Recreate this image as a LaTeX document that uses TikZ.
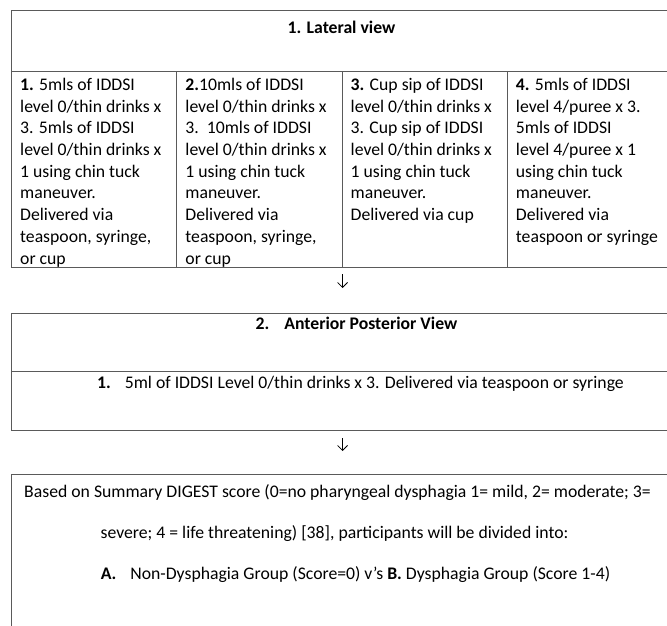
\documentclass[tikz,border=0pt]{standalone}
\usepackage{fontspec}
\setmainfont{Carlito}
\usetikzlibrary{positioning,arrows.meta}
\definecolor{rulegray}{HTML}{5A5A5A}
\tikzset{
    x=1pt, y=-1pt, % one unit per pixel, y runs down the page
    frame/.style={draw=rulegray, line width=1.1pt, inner sep=0pt, anchor=north west}, % box outlines
    plain/.style={inner sep=0pt, anchor=base, font=\fontsize{17.7pt}{21.7pt}\selectfont},
    title/.style={plain, font=\fontsize{17.7pt}{21.7pt}\selectfont\bfseries},
    steptext/.style={inner sep=0pt, align=left, font=\fontsize{17.7pt}{21.7pt}\selectfont}, % text of the four cells
    flow/.style={-{Straight Barb[length=5pt,width=10pt]}, line width=0.8pt},
}
\begin{document}
\begin{tikzpicture}
  \useasboundingbox (0,0) rectangle (667,626);

  % 1. Lateral view
  \node[frame, minimum width=661pt, minimum height=61pt] (lathead) at (11,10) {};
  \foreach \i/\n in {0/cellone,1/celltwo,2/cellthree,3/cellfour}
    \node[frame, minimum width=165.25pt, minimum height=196pt] (\n) at (11+165.25*\i,71) {};
  \node[title] (lattitle) at (341.5,34) {1. Lateral view};

  \node[steptext, below right=7pt and 9pt of cellone.north west] (stepone)
    {\textbf{1.} 5mls of IDDSI\\level 0/thin drinks x\\3. 5mls of IDDSI\\level 0/thin drinks x\\1 using chin tuck\\maneuver.\\Delivered via\\teaspoon, syringe,\\or cup};
  \node[steptext, below right=7pt and 9pt of celltwo.north west] (steptwo)
    {\textbf{2.}10mls of IDDSI\\level 0/thin drinks x\\3.\ \ 10mls of IDDSI\\level 0/thin drinks x\\1 using chin tuck\\maneuver.\\Delivered via\\teaspoon, syringe,\\or cup};
  \node[steptext, below right=7pt and 9pt of cellthree.north west] (stepthree)
    {\textbf{3.} Cup sip of IDDSI\\level 0/thin drinks x\\3. Cup sip of IDDSI\\level 0/thin drinks x\\1 using chin tuck\\maneuver.\\Delivered via cup};
  \node[steptext, below right=7pt and 9pt of cellfour.north west] (stepfour)
    {\textbf{4.} 5mls of IDDSI\\level 4/puree x 3.\\5mls of IDDSI\\level 4/puree x 1\\using chin tuck\\maneuver.\\Delivered via\\teaspoon or syringe};

  % 2. Anterior posterior view
  \node[frame, minimum width=694pt, minimum height=58pt] (aphead) at (11,313) {};
  \node[frame, minimum width=694pt, minimum height=59pt] (apbody) at (11,371) {};
  \node[title] (aptitle) at (356.5,329.5) {2.\hspace{15pt}Anterior Posterior View};
  \node[plain] (apstep) at (360.5,388.5)
    {\textbf{1.}\hspace{14pt}5ml of IDDSI Level 0/thin drinks x 3. Delivered via teaspoon or syringe};

  % DIGEST grouping
  \node[frame, minimum width=694pt, minimum height=200pt] (digest) at (11,474) {};
  \node[plain] (scoreone) at (337.5,497.5)
    {Based on Summary DIGEST score (0=no pharyngeal dysphagia 1= mild, 2= moderate; 3=};
  \node[plain] (scoretwo) at (334.5,538.5)
    {severe; 4 = life threatening) [38], participants will be divided into:};
  \node[plain] (groups) at (355.5,579.5)
    {\textbf{A.}\hspace{14pt}Non-Dysphagia Group (Score=0) v’s \textbf{B.} Dysphagia Group (Score 1-4)};

  \draw[flow, shorten <=6pt, shorten >=25pt] (celltwo.south east) -- (celltwo.south east |- aphead.north);
  \draw[flow, shorten <=7pt, shorten >=23pt] (celltwo.south east |- apbody.south) -- (celltwo.south east |- digest.north);
\end{tikzpicture}
\end{document}
